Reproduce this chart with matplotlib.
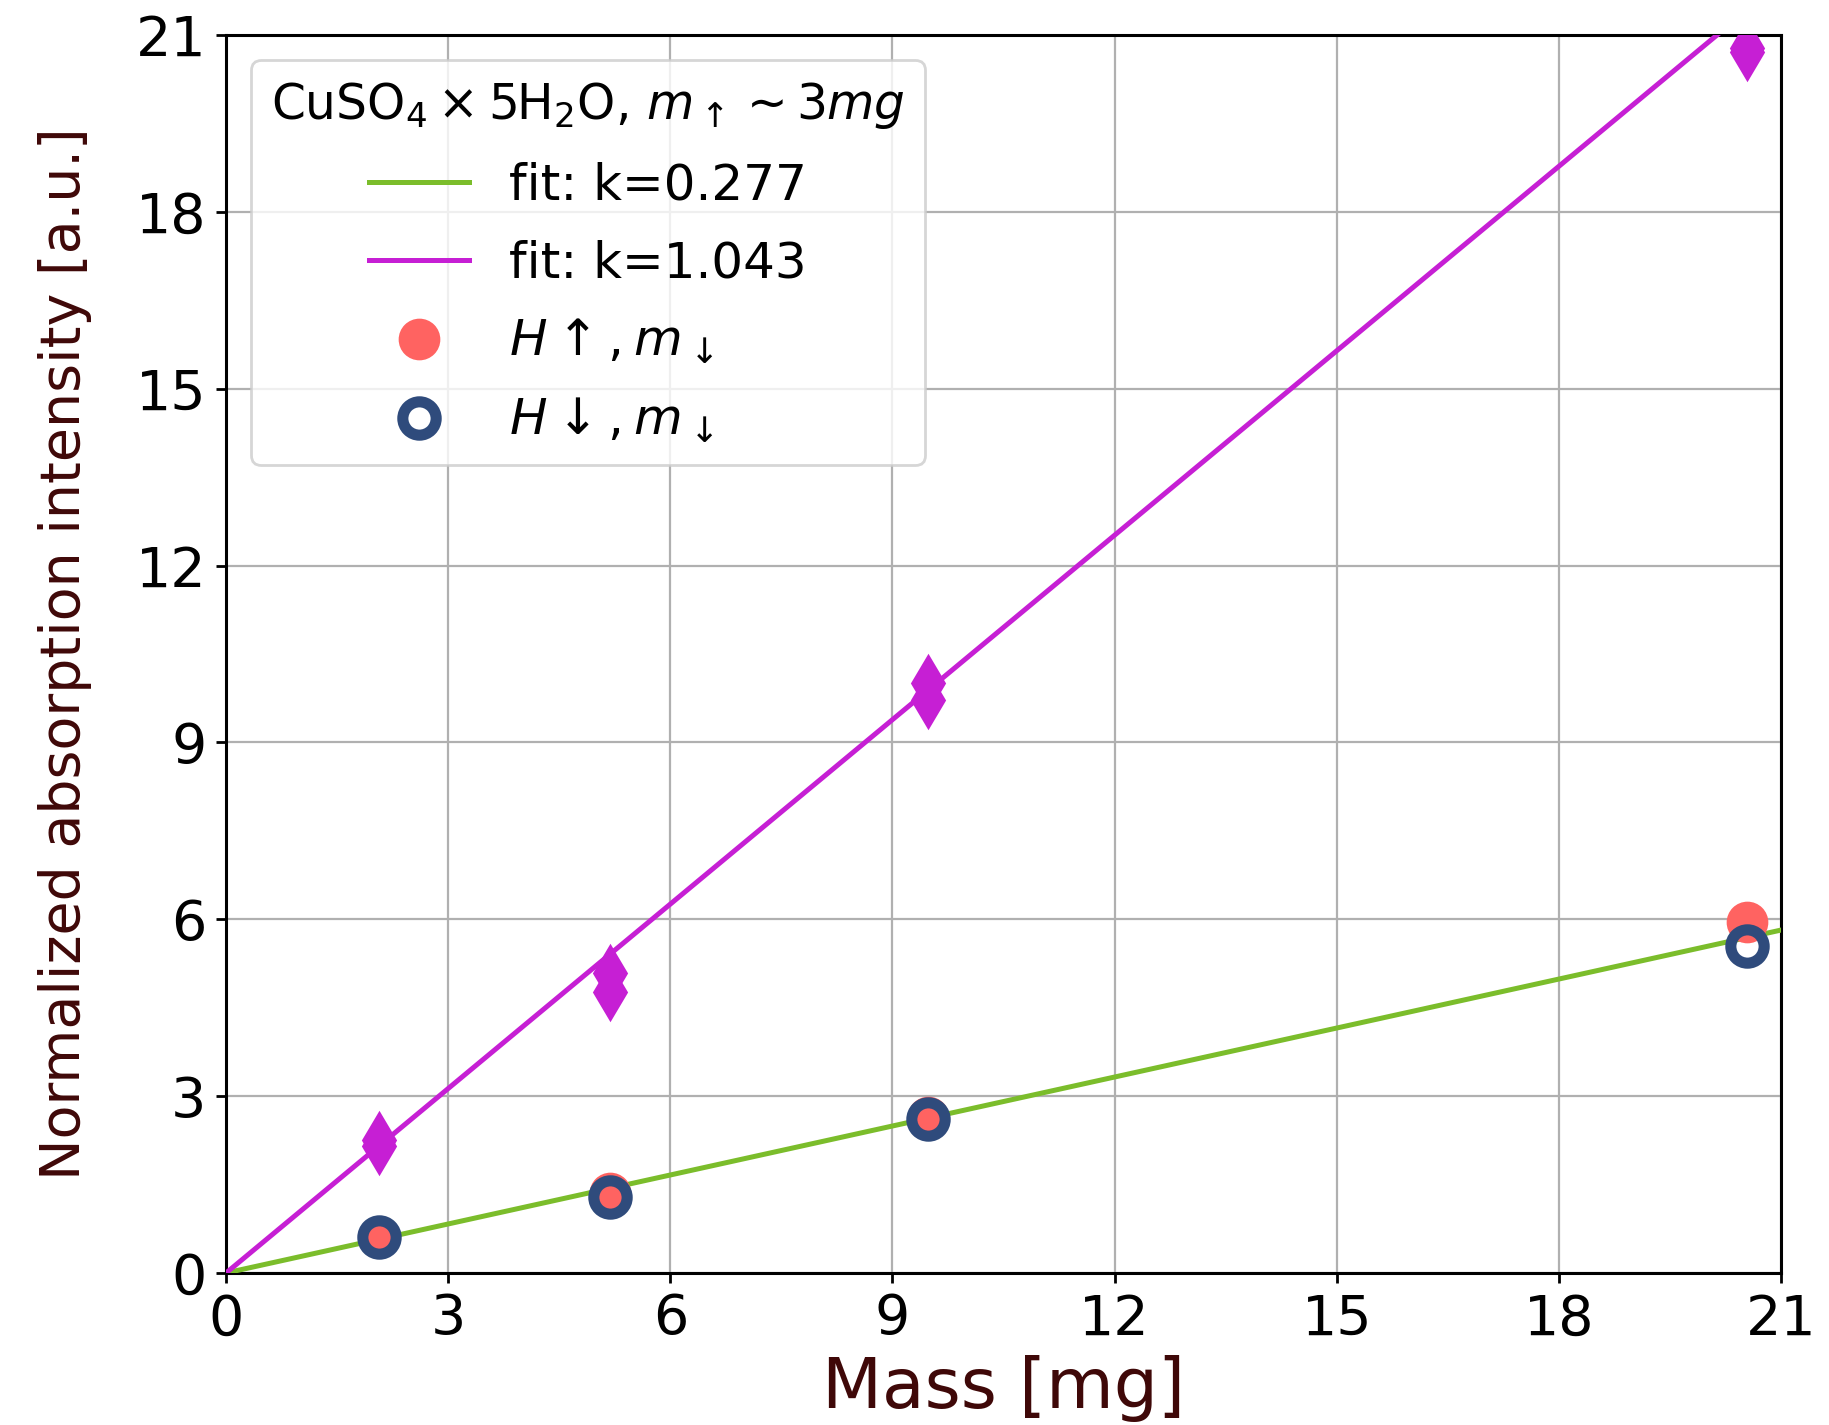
import numpy as np
import matplotlib.pyplot as plt

# masses [mg]
mass = [2.07, 5.19, 9.48, 20.54]
# m_down sample, field up / field down
h_up = [0.61, 1.36, 2.65, 5.95]
h_down = [0.61, 1.29, 2.62, 5.55]
# m_up sample (diamonds), two per mass
mass_d = [2.07, 2.07, 5.19, 5.19, 9.48, 9.48, 20.54, 20.54]
int_d = [2.26, 2.15, 5.09, 4.77, 10.0, 9.72, 20.78, 20.72]
# fitted slopes
k_low = 0.277
k_high = 1.043

fig = plt.figure(figsize=(9.145, 7.125), dpi=200)
ax = fig.add_axes([0.1236, 0.1067, 0.8502, 0.8687])

xf = np.linspace(0, 21, 100)
ax.plot(xf, k_low * xf, color='#7bbd2b', lw=1.8, label='fit: k=0.277', zorder=3)
ax.plot(xf, k_high * xf, color='#c61fd4', lw=1.8, label='fit: k=1.043', zorder=3)
ax.plot(mass_d, int_d, 'd', color='#c61fd4', ms=13.5, zorder=4)
ax.plot(mass, h_up, 'o', color='#ff6361', ms=14, ls='none',
        label=r'$H\uparrow, m_\downarrow$', zorder=4)
ax.plot(mass, h_down, 'o', mfc='none', mec='#2f4b7c', mew=4, ms=12, ls='none',
        label=r'$H\downarrow, m_\downarrow$', zorder=5)

ax.set_xlim(0, 21)
ax.set_ylim(0, 21)
ax.set_xticks(np.arange(0, 22, 3))
ax.set_yticks(np.arange(0, 22, 3))
ax.tick_params(labelsize=20, width=1.0, length=3.5)
ax.grid(True, color='#b0b0b0', lw=0.8)
for s in ax.spines.values():
    s.set_linewidth(1.1)

ax.set_xlabel('Mass [mg]', fontsize=25, color='#3f0808', labelpad=3)
ax.set_ylabel('Normalized absorption intensity [a.u.]', fontsize=20,
              color='#3f0808', labelpad=16)

leg = ax.legend(loc='upper left', fontsize=18, labelspacing=0.6,
                title=r'CuSO$_4\times$5H$_2$O, $m_\uparrow\sim3mg$',
                title_fontsize=17.5)

fig.savefig('out.png', dpi=200)
